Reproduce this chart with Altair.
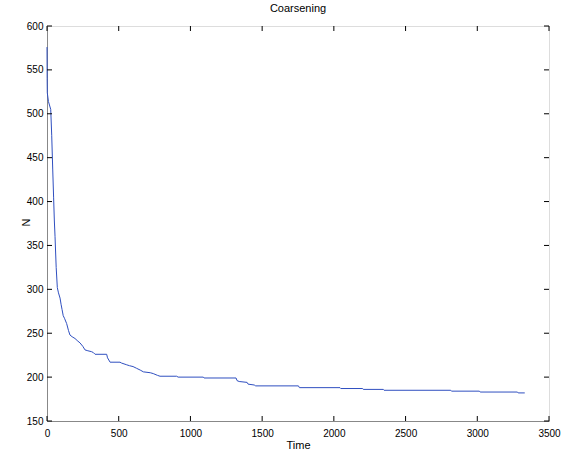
import altair as alt
import pandas as pd

# Data (time, number of grains N)
time = [0, 1, 2, 10, 26, 33, 40, 46, 51, 56, 64, 72, 80, 91, 98, 105, 113, 122,
        137, 150, 160, 175, 195, 215, 230, 250, 265, 285, 310, 323, 335, 416,
        422, 440, 509, 520, 556, 575, 600, 625, 650, 672, 720, 741, 770, 788,
        904, 914, 1090, 1095, 1318, 1325, 1340, 1395, 1402, 1445, 1455, 1753,
        1760, 2043, 2048, 2201, 2205, 2345, 2350, 2815, 2820, 3015, 3020, 3280,
        3285, 3331]
n_vals = [576, 540, 524, 514, 505, 475, 436, 405, 379, 360, 325, 302, 296, 290,
          283, 277, 270, 267, 261, 253, 248, 246, 244, 241, 239, 235, 231, 230,
          229, 228, 226, 226, 222, 217, 217, 216, 214, 213, 212, 210, 208, 206,
          205, 204, 202, 201, 201, 200, 200, 199, 199, 196, 195, 194, 192, 191,
          190, 190, 188, 188, 187, 187, 186, 186, 185, 185, 184, 184, 183, 183,
          182, 182]

x_ticks = [0, 500, 1000, 1500, 2000, 2500, 3000, 3500]
y_ticks = [150, 200, 250, 300, 350, 400, 450, 500, 550, 600]

W, H = 502, 395
FONT = "Liberation Sans"

df = pd.DataFrame({"Time": time, "N": n_vals})
xt = pd.DataFrame({"t": x_ticks})
yt = pd.DataFrame({"v": y_ticks})

xscale = alt.Scale(domain=[0, 3500], nice=False, zero=False)
yscale = alt.Scale(domain=[150, 600], nice=False, zero=False)

line = alt.Chart(df).mark_line(color="#2f4fc0", strokeWidth=1, interpolate="linear").encode(
    x=alt.X("Time:Q", scale=xscale,
            axis=alt.Axis(values=x_ticks, format="d", ticks=False, grid=False,
                          labelPadding=7, labelFlush=False, labelOverlap=False,
                          title="Time", titleY=27, titleBaseline="alphabetic",
                          titleFontWeight="normal", titleFontSize=11)),
    y=alt.Y("N:Q", scale=yscale,
            axis=alt.Axis(values=y_ticks, format="d", ticks=False, grid=False,
                          labelPadding=4, labelFlush=False, labelOverlap=False,
                          title="N", titleX=-18, titleY=196, titleAngle=-90,
                          titleBaseline="alphabetic", titleAlign="center",
                          titleFontWeight="normal", titleFontSize=11)),
)

tick_len = 5
bottom_ticks = alt.Chart(xt).mark_rule(color="black", strokeWidth=1).encode(
    x=alt.X("t:Q", scale=xscale), y=alt.value(H), y2=alt.value(H - tick_len))
top_ticks = alt.Chart(xt).mark_rule(color="black", strokeWidth=1).encode(
    x=alt.X("t:Q", scale=xscale), y=alt.value(0), y2=alt.value(tick_len))
left_ticks = alt.Chart(yt).mark_rule(color="black", strokeWidth=1).encode(
    y=alt.Y("v:Q", scale=yscale), x=alt.value(0), x2=alt.value(tick_len))
right_ticks = alt.Chart(yt).mark_rule(color="black", strokeWidth=1).encode(
    y=alt.Y("v:Q", scale=yscale), x=alt.value(W), x2=alt.value(W - tick_len))

chart = alt.layer(line, bottom_ticks, top_ticks, left_ticks, right_ticks).properties(
    width=W, height=H,
    title=alt.TitleParams("Coarsening", fontSize=11, fontWeight="normal", font=FONT,
                          offset=7, anchor="middle", color="black"),
    autosize=alt.AutoSizeParams(type="none"),
    padding={"left": 47, "top": 26, "right": 12, "bottom": 31},
).configure_view(
    stroke="black", strokeWidth=1
).configure_axis(
    labelFont=FONT, titleFont=FONT, labelFontSize=11, labelColor="black",
    titleColor="black", domainColor="black", domainWidth=1.5
).configure(background="white")

chart.save("out.html", embed_options={"renderer": "svg", "actions": False})
